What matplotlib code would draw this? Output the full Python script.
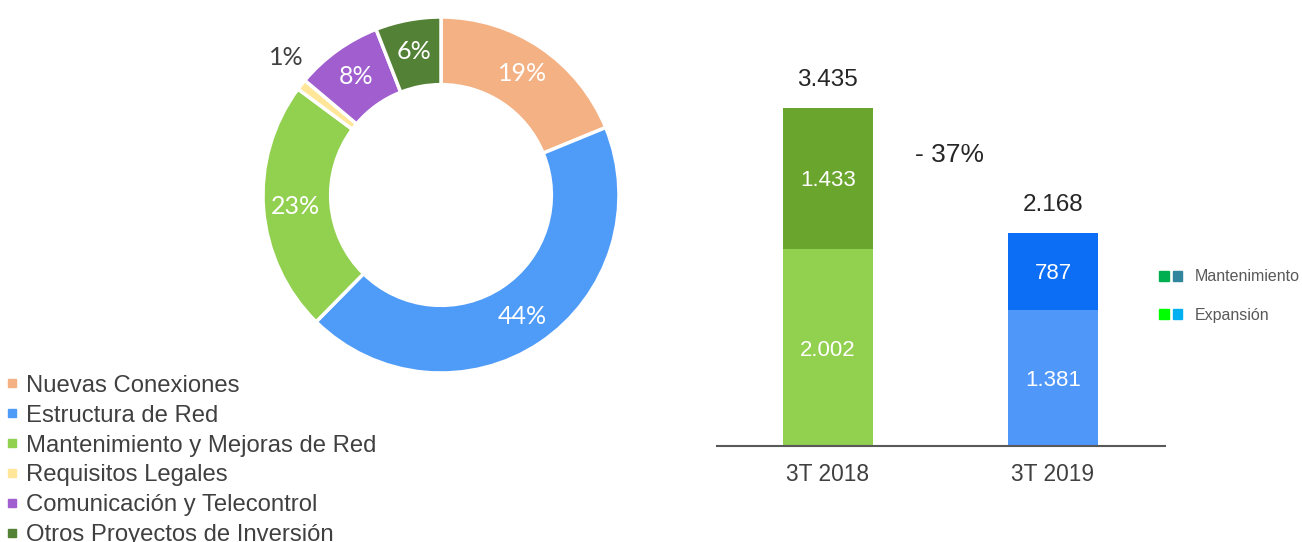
import matplotlib
matplotlib.use('Agg')
import matplotlib.pyplot as plt
import numpy as np
from matplotlib.lines import Line2D
from matplotlib.patches import Patch
from matplotlib.legend_handler import HandlerTuple

plt.rcParams['font.family'] = ['Liberation Sans', 'DejaVu Sans']

# donut data
categorias = ['Nuevas Conexiones', 'Estructura de Red', 'Mantenimiento y Mejoras de Red',
              'Requisitos Legales', 'Comunicación y Telecontrol', 'Otros Proyectos de Inversión']
porcentajes = [19, 44, 23, 1, 8, 6]
colores_pie = ['#F4B183', '#4F9BF8', '#92D050', '#FFE699', '#A05ECF', '#538135']

# bar data
periodos = ['3T 2018', '3T 2019']
expansion = [2002, 1381]
mantenimiento = [1433, 787]
col_exp = ['#92D050', '#4F97F9']
col_man = ['#6AA52E', '#0B6EF5']
variacion = '- 37%'

def fmt(v):
    return f'{v:,}'.replace(',', '.')

fig = plt.figure(figsize=(13.02, 5.42), dpi=100)

# ---- donut ----
ax1 = fig.add_axes([263/1302, 169/542, 356/1302, 356/542])
wedges, _ = ax1.pie(porcentajes, colors=colores_pie, startangle=90, counterclock=False,
                    radius=1, wedgeprops=dict(width=0.38, edgecolor='white', linewidth=2.5))
ax1.set_xlim(-1, 1)
ax1.set_ylim(-1, 1)
ax1.set_aspect('equal')
ax1.axis('off')
for w, p in zip(wedges, porcentajes):
    ang = np.deg2rad((w.theta1 + w.theta2) / 2)
    if p < 3:
        r, c = 1.2, '#404040'
    else:
        r, c = 0.82, 'white'
    ax1.text(r*np.cos(ang) + (0.07 if p < 3 else 0), r*np.sin(ang) + (0.03 if p < 3 else 0),
             f'{p}%', ha='center', va='center', color=c, fontsize=18,
             family=['Lato', 'DejaVu Sans'])

handles = [Line2D([], [], marker='s', ls='', color=c, markersize=6) for c in colores_pie]
fig.legend(handles, categorias, loc='upper left', bbox_to_anchor=(0.0, 1 - 370/542),
           frameon=False, fontsize=17.2, labelcolor='#404040', handlelength=0.6,
           handletextpad=0.3, labelspacing=0.33, borderaxespad=0, borderpad=0.2)

# ---- bars ----
ax2 = fig.add_axes([717/1302, 96/542, 448/1302, 406/542])
x = np.arange(len(periodos))
ax2.bar(x, expansion, width=0.4, color=col_exp)
ax2.bar(x, mantenimiento, width=0.4, bottom=expansion, color=col_man)
ax2.set_xlim(-0.493, 1.498)
ax2.set_ylim(0, 4126)
for i in x:
    ax2.text(i, expansion[i]/2, fmt(expansion[i]), ha='center', va='center_baseline',
             color='white', fontsize=16)
    ax2.text(i, expansion[i] + mantenimiento[i]/2, fmt(mantenimiento[i]), ha='center',
             va='center_baseline', color='white', fontsize=16)
    tot = expansion[i] + mantenimiento[i]
    ax2.text(i, tot + 285, fmt(tot), ha='center', va='center', color='#262626', fontsize=17.5)
ax2.text(0.54, 2960, variacion, ha='center', va='center', color='#262626', fontsize=19)
for s in ['top', 'right', 'left']:
    ax2.spines[s].set_visible(False)
ax2.spines['bottom'].set_color('#595959')
ax2.spines['bottom'].set_linewidth(1.5)
ax2.set_yticks([])
ax2.set_xticks(x)
ax2.set_xticklabels(periodos, fontsize=16.4, color='#404040')
ax2.tick_params(axis='x', length=0, pad=12)

leg_h = [(Patch(color='#00B050'), Patch(color='#31859C')),
         (Patch(color='#00FF00'), Patch(color='#00B0F0'))]
fig.legend(leg_h, ['Mantenimiento', 'Expansión'], loc='upper left',
           bbox_to_anchor=(1153/1302, 1 - 263/542), frameon=False, fontsize=11.5,
           labelcolor='#595959', handler_map={tuple: HandlerTuple(ndivide=None, pad=0.25)},
           handlelength=1.4, handleheight=0.55, labelspacing=1.45, handletextpad=0.8,
           borderaxespad=0)

fig.savefig('out.png', dpi=100)
